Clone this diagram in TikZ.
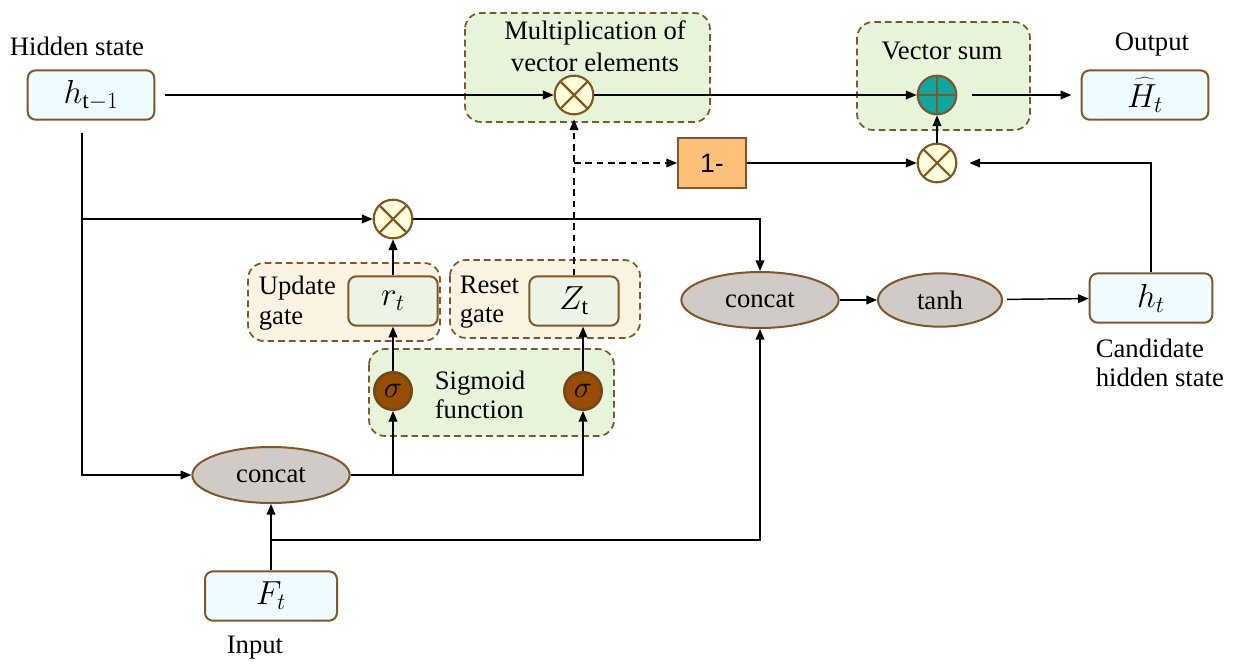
\documentclass[tikz,border=0pt]{standalone}
\usepackage{fix-cm}
\usepackage{fontspec}
\setmainfont{Liberation Serif}
\newfontfamily\arialfont{Liberation Sans}
\usetikzlibrary{arrows.meta,shapes.geometric}

\definecolor{brd}{RGB}{127,87,40}
\definecolor{cyanfill}{RGB}{238,252,255}
\definecolor{grpgreen}{RGB}{230,244,218}
\definecolor{grptan}{RGB}{250,243,225}
\definecolor{gatefill}{RGB}{236,244,230}
\definecolor{xfill}{RGB}{255,255,217}
\definecolor{sumteal}{RGB}{14,166,160}
\definecolor{sigfill}{RGB}{153,77,0}
\definecolor{sigbrd}{RGB}{112,72,32}
\definecolor{ellfill}{RGB}{209,203,200}
\definecolor{onefill}{RGB}{255,192,122}

\tikzset{every picture/.style={line width=0.75pt}}
\tikzset{
  lbl/.style={font=\fontsize{20}{24}\selectfont, align=center, inner sep=1pt},
  lbll/.style={lbl, font=\fontsize{20}{22}\selectfont, align=left, anchor=west},
  statebox/.style={draw=brd, line width=1.5pt, fill=cyanfill, rounded corners=6pt,
    minimum width=95pt, minimum height=37pt, inner sep=0pt, font=\fontsize{25}{28}\selectfont},
  gatebox/.style={statebox, fill=gatefill, minimum width=67pt},
  grp/.style={draw=brd, line width=1.3pt, dash pattern=on 5pt off 3pt, rounded corners=12pt},
  mulnode/.style={circle, draw=brd, line width=1.6pt, fill=xfill, minimum size=29pt, inner sep=0pt,
    path picture={\draw[brd, line width=1.6pt]
      (path picture bounding box.north west) -- (path picture bounding box.south east)
      (path picture bounding box.south west) -- (path picture bounding box.north east);}},
  sumnode/.style={mulnode, fill=sumteal,
    path picture={\draw[brd, line width=1.6pt]
      (path picture bounding box.north) -- (path picture bounding box.south)
      (path picture bounding box.west) -- (path picture bounding box.east);}},
  signode/.style={circle, draw=sigbrd, line width=2pt, fill=sigfill, minimum size=28pt, inner sep=0pt,
    font=\fontsize{23}{26}\selectfont},
  catnode/.style={ellipse, draw=brd, line width=1.5pt, fill=ellfill, minimum width=118pt,
    minimum height=42pt, inner sep=0pt, font=\fontsize{20}{24}\selectfont},
  arr/.style={-{Triangle[length=8pt,width=6.5pt]}, line width=1.1pt},
  darr/.style={arr, dash pattern=on 5pt off 3.5pt},
}

\begin{document}
\begin{tikzpicture}[x=0.75pt,y=0.75pt,yscale=-1,xscale=1]
	\useasboundingbox (0,0) rectangle (1237,664);

	% Group boxes
	\draw [grp, fill=grpgreen] (465,13) rectangle (710,122);
	\draw [grp, fill=grpgreen] (857,22) rectangle (1030,130);
	\draw [grp, fill=grptan] (248,263) rectangle (440,341);
	\draw [grp, fill=grptan] (450,260) rectangle (640,338);
	\draw [grp, fill=grpgreen] (369,349) rectangle (614,436);

	% Text nodes
	\node [lbl] (thid) at (77,46) {Hidden state};
	\node [lbl] (tout) at (1152,45) {Output};
	\node [lbl] (tmul) at (595,46) {Multiplication of\\vector elements};
	\node [lbl] (tsum) at (942,51) {Vector sum};
	\node [lbll] (tupd) at (257,303) {Update\\gate};
	\node [lbll] (trst) at (458,302) {Reset\\gate};
	\node [lbll] (tsig) at (433,395) {Sigmoid\\function};
	\node [lbll] (tcand) at (1094,363) {Candidate\\hidden state};
	\node [lbl] (tin) at (255,648) {Input};

	% State boxes
	\node [statebox] (hprev) at (91,95) {$h_{\mathrm{t}-1}$};
	\node [statebox] (Hout) at (1145,95) {$\widehat{\rule{0pt}{0.8em}H_t}$};
	\node [statebox, minimum width=92pt] (ht) at (1151,298) {$h_t$};
	\node [statebox, minimum width=99pt] (Ft) at (271,596) {$F_t$};
	\node [gatebox] (rt) at (393,301) {$r_t$};
	\node [gatebox] (zt) at (574,301) {$Z_{\mathrm{t}}$};
	\node [draw=brd, line width=1.5pt, fill=onefill, minimum width=51pt, minimum height=37pt,
	  font=\arialfont\fontsize{20}{24}\selectfont] (one) at (712,163) {1-};

	% Operators
	\node [mulnode] (mul1) at (574,95) {};
	\node [sumnode] (plus) at (937,95) {};
	\node [mulnode] (mul2) at (937,163) {};
	\node [mulnode] (mul3) at (393,219) {};
	\node [signode] (sig1) at (393,391) {$\sigma$};
	\node [signode] (sig2) at (583,391) {$\sigma$};
	\node [catnode] (cat1) at (271,475) {concat};
	\node [catnode] (cat2) at (760,300) {concat};
	\node [catnode, minimum width=93pt, minimum height=40pt] (tanh) at (940,300) {tanh};

	\coordinate (hdown) at (82,133);
	\coordinate (fjoin) at (271,540);

	% Connectors
	\draw [arr, shorten <=7.5pt] (hprev) -- (mul1);
	\draw [arr] (mul1) -- (plus);
	\draw [arr, shorten <=11pt, shorten >=7pt] (plus) -- (Hout);
	\draw [arr] (one) -- (mul2);
	\draw [arr] (mul2) -- (plus);
	\draw [arr, shorten >=9pt] (ht.north) |- (mul2.east);
	\draw [darr, shorten >=3pt] (zt) -- (mul1);
	\draw [darr] (zt.north |- one) -- (one);
	\draw [arr] (hdown) |- (cat1);
	\draw [arr] (hdown |- mul3) -- (mul3);
	\draw [arr] (mul3) -| (cat2);
	\draw [arr] (rt) -- (mul3);
	\draw [arr] (sig1) -- (rt);
	\draw [arr] (sig2.north) -- (sig2.north |- zt.south);
	\draw [arr] (cat1.east) -| (sig2.south);
	\draw [arr] (cat1.east -| sig1) -- (sig1);
	\draw [arr] (Ft) -- (cat1);
	\draw [arr] (fjoin) -| (cat2.south);
	\draw [arr] (cat2) -- (tanh);
	\draw [arr, shorten <=3pt] (tanh) -- (ht);

\end{tikzpicture}
\end{document}
